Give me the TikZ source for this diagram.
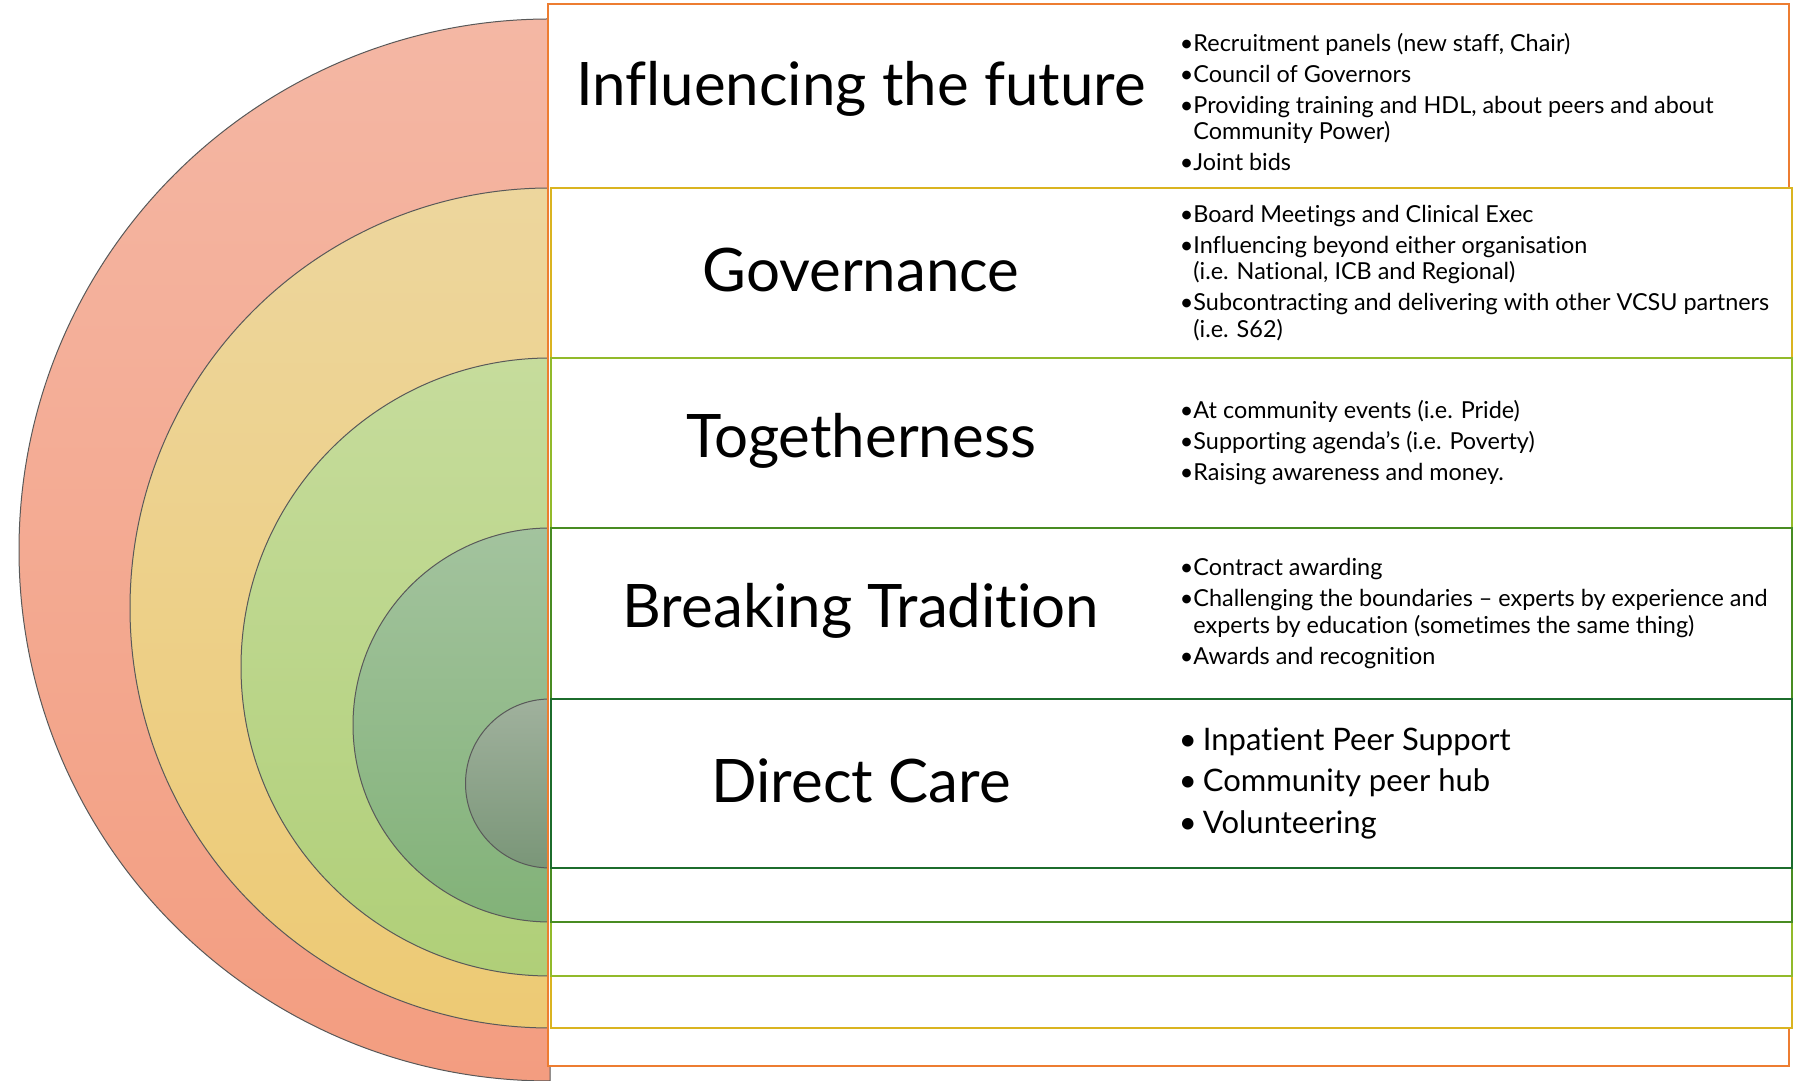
\documentclass[tikz,border=0pt]{standalone}
\usepackage{fontspec}
\setmainfont{Lato}[Ligatures={NoCommon}]
\definecolor{edgeA}{RGB}{237,125,49}
\definecolor{edgeB}{RGB}{218,180,32}
\definecolor{edgeC}{RGB}{146,186,42}
\definecolor{edgeD}{RGB}{72,140,34}
\definecolor{edgeE}{RGB}{28,108,44}
\begin{document}
\begin{tikzpicture}[x=0.5pt,y=0.5pt,
title/.style={font=\fontsize{30}{35}\selectfont},
items/.style={anchor=west,align=left,inner sep=0pt,font=\fontsize{11.7}{13.2}\selectfont},
bigitems/.style={anchor=west,align=left,inner sep=0pt,font=\fontsize{15.5}{20.6}\selectfont},
ring/.style={draw=black!65,line width=0.5pt},
band/.style={fill=white,line width=1pt}]
\useasboundingbox(0,0)rectangle(1796,1081);
\pgfmathsetmacro{\xl}{551}
\pgfmathsetmacro{\xr}{1792}
\pgfmathsetmacro{\xt}{861}
\pgfmathsetmacro{\xb}{1179.5}
% rings
\shade[ring,top color={rgb,255:red,244;green,183;blue,164},bottom color={rgb,255:red,243;green,157;blue,128}](550,1062)arc[start angle=90,end angle=270,radius=531]--cycle;
\shade[ring,top color={rgb,255:red,237;green,214;blue,157},bottom color={rgb,255:red,237;green,202;blue,116}](550,893)arc[start angle=90,end angle=270,radius=420]--cycle;
\shade[ring,top color={rgb,255:red,198;green,220;blue,156},bottom color={rgb,255:red,176;green,207;blue,120}](550,723)arc[start angle=90,end angle=270,radius=309]--cycle;
\shade[ring,top color={rgb,255:red,163;green,195;blue,158},bottom color={rgb,255:red,130;green,178;blue,120}](550,553)arc[start angle=90,end angle=270,radius=197]--cycle;
\shade[ring,top color={rgb,255:red,160;green,177;blue,157},bottom color={rgb,255:red,122;green,150;blue,120}](550,382)arc[start angle=90,end angle=270,radius=84.5]--cycle;
% bands
\draw[band,draw=edgeA](548,15)rectangle(1789,1077);
\draw[band,draw=edgeB](\xl,53)rectangle(\xr,893);
\draw[band,draw=edgeC](\xl,105)rectangle(\xr,723);
\draw[band,draw=edgeD](\xl,159)rectangle(\xr,553);
\draw[band,draw=edgeE](\xl,213)rectangle(\xr,382);
% titles
\node[title](tA)at(\xt,992){Influencing the future};
\node[title](tB)at(\xt,811){Governance};
\node[title](tC)at(\xt,640){Togetherness};
\node[title](tD)at(\xt,470){Breaking Tradition};
\node[title](tE)at(\xt,300){Direct Care};
%
\node[items](iA)at(\xb,979){•Recruitment panels (new staff, Chair)\\[2.3pt]
•Council of Governors\\[2.3pt]
•Providing training and HDL, about peers and about\\
\hphantom{•}Community Power)\\[2.3pt]
•Joint bids};
\node[items](iB)at(\xb,808){•Board Meetings and Clinical Exec\\[2.3pt]
•Influencing beyond either organisation\\
\hphantom{•}(i.e. National, ICB and Regional)\\[2.3pt]
•Subcontracting and delivering with other VCSU partners\\
\hphantom{•}(i.e. S62)};
\node[items](iC)at(\xb,638){•At community events (i.e. Pride)\\[2.3pt]
•Supporting agenda’s (i.e. Poverty)\\[2.3pt]
•Raising awareness and money.};
\node[items](iD)at(\xb,467.5){•Contract awarding\\[2.3pt]
•Challenging the boundaries – experts by experience and\\
\hphantom{•}experts by education (sometimes the same thing)\\[2.3pt]
•Awards and recognition};
\node[bigitems](iE)at(\xb-1,297.5){•\hspace{3pt}Inpatient Peer Support\\
•\hspace{3pt}Community peer hub\\
•\hspace{3pt}Volunteering};
\end{tikzpicture}
\end{document}
